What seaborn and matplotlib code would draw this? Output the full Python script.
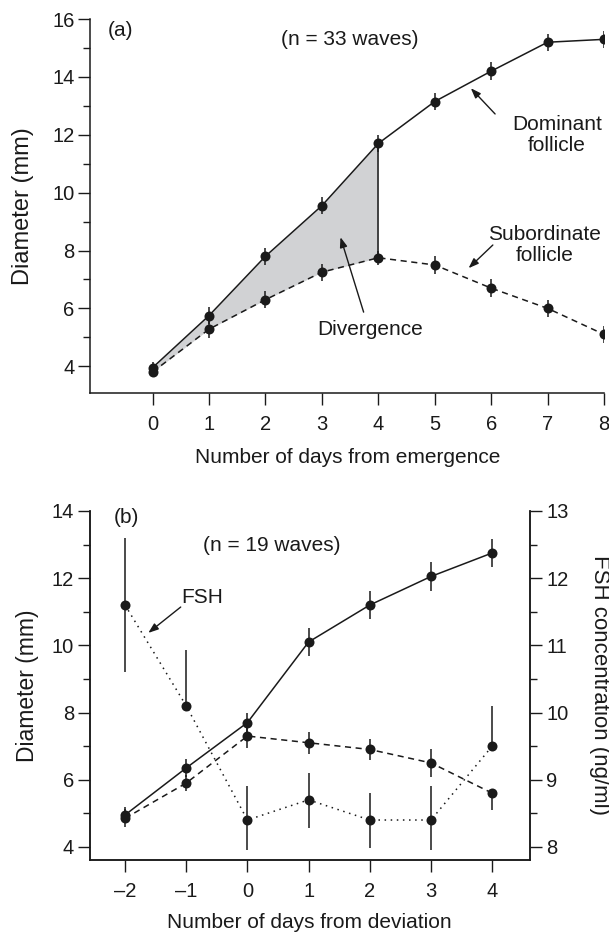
import numpy as np
import pandas as pd
import matplotlib
matplotlib.use('Agg')
import matplotlib.pyplot as plt
import seaborn as sns

# panel (a): days from emergence
days_a = [0, 1, 2, 3, 4, 5, 6, 7, 8]
dominant_a = [3.95, 5.75, 7.8, 9.55, 11.7, 13.15, 14.2, 15.2, 15.3]
dominant_a_err = [0.2, 0.3, 0.3, 0.3, 0.3, 0.3, 0.3, 0.3, 0.3]
subordinate_a = [3.8, 5.28, 6.3, 7.25, 7.75, 7.5, 6.7, 6.0, 5.1]
subordinate_a_err = [0.15, 0.3, 0.3, 0.3, 0.25, 0.3, 0.3, 0.3, 0.3]

# panel (b): days from deviation
days_b = [-2, -1, 0, 1, 2, 3, 4]
dominant_b = [4.95, 6.35, 7.7, 10.1, 11.2, 12.05, 12.75]
dominant_b_err = [0.25, 0.28, 0.3, 0.42, 0.42, 0.42, 0.42]
subordinate_b = [4.85, 5.9, 7.3, 7.1, 6.9, 6.5, 5.6]
subordinate_b_lo = [0.27, 0.25, 0.35, 0.32, 0.3, 0.42, 0.5]
subordinate_b_hi = [0.27, 0.25, 0.35, 0.32, 0.3, 0.42, 0.05]
fsh_b = [11.6, 10.1, 8.4, 8.7, 8.4, 8.4, 9.5]
fsh_b_lo = [1.0, 0.0, 0.45, 0.42, 0.42, 0.45, 0.0]
fsh_b_hi = [1.0, 0.83, 0.5, 0.4, 0.4, 0.5, 0.6]

sns.set_style('ticks')
plt.rcParams['font.family'] = ['Liberation Sans', 'DejaVu Sans']
ink = '#1a1a1a'
fs = 15
ms = 7.2

fig = plt.figure(figsize=(6.09, 9.36), dpi=100)
ax1 = fig.add_axes([0.1486, 0.580, 0.8432, 0.3996])
ax2 = fig.add_axes([0.148, 0.0812, 0.7225, 0.3729])

df_a = pd.DataFrame({'day': days_a, 'dom': dominant_a, 'sub': subordinate_a})

# shaded divergence area
ax1.fill_between(days_a[:5], subordinate_a[:5], dominant_a[:5], color='#d1d2d4', lw=0, zorder=1)
ax1.vlines(days_a[4], subordinate_a[4], dominant_a[4], color=ink, lw=1.1, zorder=2)

sns.lineplot(data=df_a, x='day', y='dom', ax=ax1, color=ink, lw=1.1, marker='o',
             markersize=ms, markeredgewidth=0, zorder=3)
sns.lineplot(data=df_a, x='day', y='sub', ax=ax1, color=ink, lw=1.1, marker='o',
             markersize=ms, markeredgewidth=0, linestyle=(0, (4, 3)), zorder=3)
ax1.errorbar(days_a, dominant_a, yerr=dominant_a_err, fmt='none', ecolor=ink, elinewidth=1.1)
ax1.errorbar(days_a, subordinate_a, yerr=subordinate_a_err, fmt='none', ecolor=ink, elinewidth=1.1)

ax1.set_xlim(-1.1, 8)
ax1.set_ylim(3.07, 16)
ax1.set_xticks(days_a)
ax1.set_yticks([4, 6, 8, 10, 12, 14, 16])
ax1.set_yticks([5, 7, 9, 11, 13, 15], minor=True)
ax1.set_xlabel('Number of days from emergence', fontsize=fs, color=ink, va='top')
ax1.set_ylabel('Diameter (mm)', fontsize=17, color=ink)
ax1.xaxis.set_label_coords(0.5, -0.146)
ax1.yaxis.set_label_coords(-0.11, 0.5)
sns.despine(ax=ax1)

ax1.text(-0.8, 15.62, '(a)', fontsize=fs, color=ink, va='center')
ax1.text(3.49, 15.3, '(n = 33 waves)', fontsize=fs, color=ink, ha='center', va='center')
ax1.text(7.17, 12.0, 'Dominant\nfollicle', fontsize=fs, color=ink, ha='center', va='center',
         linespacing=1.1)
ax1.text(6.94, 8.19, 'Subordinate\nfollicle', fontsize=fs, color=ink, ha='center', va='center',
         linespacing=1.1)
ax1.text(3.86, 5.28, 'Divergence', fontsize=fs, color=ink, ha='center', va='center')
arrow = dict(arrowstyle='-|>,head_length=0.6,head_width=0.22', color=ink, lw=1.0, shrinkA=0, shrinkB=0)
ax1.annotate('', xy=(5.64, 13.61), xytext=(6.07, 12.72), arrowprops=arrow)
ax1.annotate('', xy=(5.6, 7.39), xytext=(6.03, 8.19), arrowprops=arrow)
ax1.annotate('', xy=(3.33, 8.46), xytext=(3.74, 5.87), arrowprops=arrow)

# panel (b)
df_b = pd.DataFrame({'day': days_b, 'dom': dominant_b, 'sub': subordinate_b, 'fsh': fsh_b})
ax3 = ax2.twinx()

sns.lineplot(data=df_b, x='day', y='dom', ax=ax2, color=ink, lw=1.1, marker='o',
             markersize=ms, markeredgewidth=0, zorder=3)
sns.lineplot(data=df_b, x='day', y='sub', ax=ax2, color=ink, lw=1.1, marker='o',
             markersize=ms, markeredgewidth=0, linestyle=(0, (4, 3)), zorder=3)
ax2.errorbar(days_b, dominant_b, yerr=dominant_b_err, fmt='none', ecolor=ink, elinewidth=1.1)
ax2.errorbar(days_b, subordinate_b, yerr=[subordinate_b_lo, subordinate_b_hi], fmt='none',
             ecolor=ink, elinewidth=1.1)

sns.lineplot(data=df_b, x='day', y='fsh', ax=ax3, color=ink, lw=1.1, marker='o',
             markersize=ms, markeredgewidth=0, linestyle=(0, (1, 3)), zorder=3)
ax3.errorbar(days_b, fsh_b, yerr=[fsh_b_lo, fsh_b_hi], fmt='none', ecolor=ink, elinewidth=1.1)

ax2.set_xlim(-2.57, 4.62)
ax2.set_ylim(3.61, 14)
ax3.set_ylim(7.805, 13)
ax2.set_xticks(days_b)
ax2.set_xticklabels(['\u20132', '\u20131', '0', '1', '2', '3', '4'])
ax2.set_yticks([4, 6, 8, 10, 12, 14])
ax2.set_yticks([5, 7, 9, 11, 13], minor=True)
ax3.set_yticks([8, 9, 10, 11, 12, 13])
ax3.set_yticks([8.5, 9.5, 10.5, 11.5, 12.5], minor=True)
ax2.set_xlabel('Number of days from deviation', fontsize=fs, color=ink, va='top')
ax2.set_ylabel('Diameter (mm)', fontsize=16.5, color=ink)
ax3.set_ylabel('FSH concentration (ng/ml)', fontsize=16, color=ink, rotation=270, va='bottom')
ax2.xaxis.set_label_coords(0.498, -0.152)
ax2.yaxis.set_label_coords(-0.116, 0.5)
ax3.yaxis.set_label_coords(1.134, 0.5)
for a in (ax2, ax3):
    a.spines['top'].set_visible(False)
ax3.spines['right'].set_visible(True)

ax2.text(-1.98, 13.82, '(b)', fontsize=fs, color=ink, ha='center', va='center')
ax2.text(0.40, 12.96, '(n = 19 waves)', fontsize=fs, color=ink, ha='center', va='center')
ax2.text(-0.745, 11.41, 'FSH', fontsize=fs, color=ink, ha='center', va='center')
ax2.annotate('', xy=(-1.62, 10.37), xytext=(-1.09, 11.14), arrowprops=arrow)

for a in (ax1, ax2, ax3):
    a.tick_params(which='major', direction='out', length=8.5, width=1.0, colors=ink,
                  labelsize=14.5, pad=3)
    a.tick_params(which='minor', direction='out', length=5, width=1.0, colors=ink)
    a.tick_params(axis='x', pad=7)
    for s in a.spines.values():
        s.set_color(ink)
        s.set_linewidth(1.1)
ax1.tick_params(axis='x', which='minor', bottom=False)
ax2.tick_params(axis='x', which='minor', bottom=False)

fig.savefig('out.png', dpi=100)
